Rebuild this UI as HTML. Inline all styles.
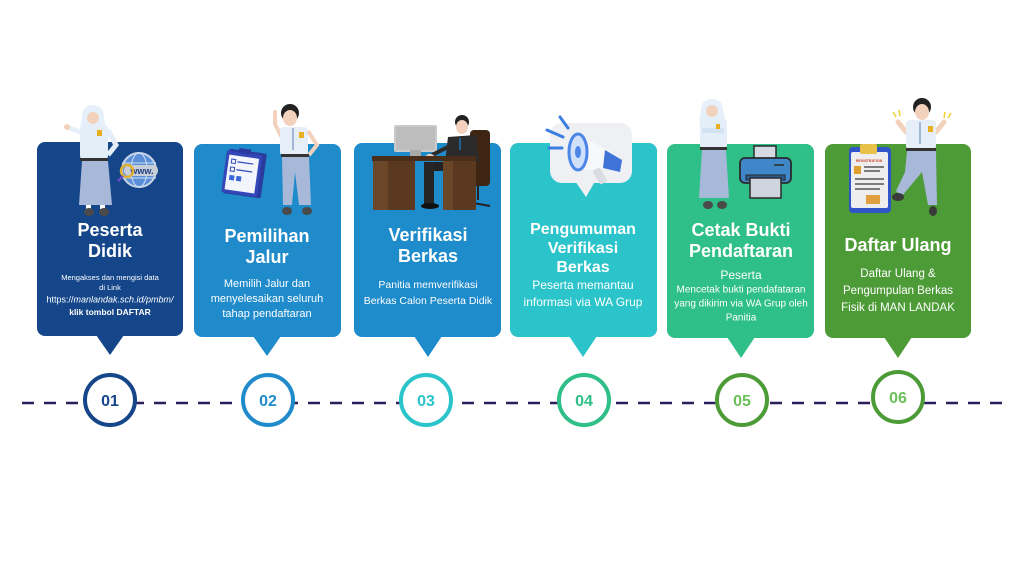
<!DOCTYPE html>
<html><head><meta charset="utf-8"><style>
html,body{margin:0;padding:0;background:#fff;}
svg{display:block;}
text{font-family:"Liberation Sans",sans-serif;}
</style></head><body>
<svg width="1024" height="576" viewBox="0 0 1024 576" xmlns="http://www.w3.org/2000/svg">
<rect width="1024" height="576" fill="#fff"/>

<!-- Cards -->
<g>
<rect x="37" y="142" width="146" height="194" rx="8" fill="#15468a"/>
<polygon points="96,335 124,335 110,355" fill="#15468a"/>
<rect x="194" y="144" width="147" height="193" rx="8" fill="#1f8bcb"/>
<polygon points="253,336 281,336 267,356" fill="#1f8bcb"/>
<rect x="354" y="143" width="147" height="194" rx="8" fill="#1e8bcb"/>
<polygon points="414,336 442,336 428,357" fill="#1e8bcb"/>
<rect x="510" y="143" width="147" height="194" rx="8" fill="#2cc4cb"/>
<polygon points="569,336 597,336 583,357" fill="#2cc4cb"/>
<rect x="667" y="144" width="147" height="194" rx="8" fill="#2fbf88"/>
<polygon points="727,337 755,337 741,358" fill="#2fbf88"/>
<rect x="825" y="144" width="146" height="194" rx="8" fill="#4d9b36"/>
<polygon points="884,337 912,337 898,358" fill="#4d9b36"/>
</g>

<!-- Card 1 illustration: girl + globe -->
<g>
<path d="M82,118 Q82,105 93,105 Q104,105 104,118 L106,128 L80,128 Z" fill="#e6f0fa"/>
<circle cx="93" cy="118" r="6" fill="#f3d2bd"/>
<line x1="83" y1="133" x2="69" y2="128" stroke="#e6f0fa" stroke-width="5" stroke-linecap="round"/>
<circle cx="67" cy="127" r="3" fill="#f3d2bd"/>
<rect x="80" y="125" width="28" height="35" rx="4" fill="#e3eef8"/>
<rect x="97" y="130" width="5" height="6" fill="#e8b020"/>
<path d="M108,130 L116,145 L108,155" stroke="#e3eef8" stroke-width="5" fill="none"/>
<rect x="80" y="158" width="28" height="3" fill="#333"/>
<polygon points="82,161 108,161 112,205 79,205" fill="#a8b8d8"/>
<rect x="86" y="205" width="5" height="4" fill="#fff"/>
<rect x="100" y="205" width="5" height="4" fill="#fff"/>
<ellipse cx="89" cy="212" rx="5" ry="4" fill="#4a4a4a"/>
<ellipse cx="104" cy="212" rx="5" ry="4" fill="#4a4a4a"/>
<circle cx="139" cy="170" r="17" fill="#5a8ed8" stroke="#c9d4e4" stroke-width="2"/>
<ellipse cx="139" cy="170" rx="8" ry="17" fill="none" stroke="#cfe0f5" stroke-width="1"/>
<line x1="122" y1="163" x2="156" y2="163" stroke="#cfe0f5" stroke-width="1"/>
<line x1="122" y1="178" x2="156" y2="178" stroke="#cfe0f5" stroke-width="1"/>
<rect x="124" y="165" width="34" height="11" rx="5" fill="#c8ced8"/>
<text x="142" y="174" font-size="9" font-weight="bold" fill="#1e3f80" text-anchor="middle">www.</text>
<circle cx="127" cy="171" r="6" fill="none" stroke="#e0b030" stroke-width="2.5"/>
<line x1="123" y1="176" x2="118" y2="181" stroke="#6a4fd0" stroke-width="2.5"/>
</g>

<!-- Card 2: clipboard + boy -->
<g transform="rotate(8 245 173)">
<rect x="226" y="151" width="38" height="45" rx="2" fill="#2b3a9e"/>
<rect x="224" y="153" width="36" height="42" rx="2" fill="#3447b8"/>
<rect x="227" y="157" width="30" height="35" fill="#f2f5fb"/>
<rect x="236" y="149" width="12" height="5" fill="#2b3a9e"/>
<rect x="230" y="161" width="4" height="4" fill="none" stroke="#3447b8" stroke-width="1"/>
<line x1="236" y1="163" x2="252" y2="163" stroke="#3447b8" stroke-width="1.2"/>
<rect x="230" y="169" width="4" height="4" fill="none" stroke="#3447b8" stroke-width="1"/>
<line x1="236" y1="171" x2="252" y2="171" stroke="#3447b8" stroke-width="1.2"/>
<rect x="230" y="177" width="5" height="5" fill="#3a66d8"/>
<rect x="237" y="177" width="5" height="5" fill="#3a66d8"/>
</g>
<g>
<circle cx="290" cy="113" r="9" fill="#222"/>
<ellipse cx="290" cy="118" rx="7" ry="8" fill="#f3d2bd"/>
<path d="M281,136 L275,124 L275,112" stroke="#f3d2bd" stroke-width="4" fill="none" stroke-linecap="round"/>
<rect x="280" y="127" width="28" height="29" rx="4" fill="#e6eef8"/>
<rect x="299" y="132" width="5" height="6" fill="#e8b020"/>
<line x1="293" y1="128" x2="293" y2="150" stroke="#8ea4cc" stroke-width="1.5"/>
<path d="M308,131 L317,145 L309,155" stroke="#f3d2bd" stroke-width="4" fill="none"/>
<rect x="281" y="154" width="28" height="3" fill="#333"/>
<polygon points="282,157 309,157 311,205 299,205 295,172 292,205 283,205" fill="#a8b8d8"/>
<ellipse cx="287" cy="211" rx="5" ry="4" fill="#4a4a4a"/>
<ellipse cx="307" cy="211" rx="5" ry="4" fill="#4a4a4a"/>
</g>

<!-- Card 3: desk + man -->
<g>
<rect x="394" y="125" width="43" height="27" rx="2" fill="#cacaca"/>
<rect x="396" y="127" width="39" height="23" fill="#bdbdbd"/>
<rect x="410" y="150" width="11" height="8" fill="#a9a9a9"/>
<rect x="470" y="130" width="20" height="56" rx="4" fill="#3e2412"/>
<line x1="478" y1="186" x2="478" y2="200" stroke="#222" stroke-width="2"/>
<line x1="468" y1="202" x2="490" y2="206" stroke="#222" stroke-width="2"/>
<circle cx="462" cy="122" r="7" fill="#222"/>
<ellipse cx="462" cy="127" rx="6" ry="7" fill="#f3d2bd"/>
<polygon points="448,137 476,135 479,162 445,162" fill="#2b2b2b"/>
<line x1="460" y1="138" x2="460" y2="150" stroke="#1f6fb0" stroke-width="1.5"/>
<line x1="450" y1="146" x2="432" y2="155" stroke="#2b2b2b" stroke-width="4"/>
<ellipse cx="430" cy="156" rx="4" ry="2" fill="#f3d2bd"/>
<rect x="372" y="156" width="104" height="5" fill="#4a2e1c"/>
<rect x="373" y="161" width="42" height="49" fill="#5b3920"/>
<rect x="373" y="161" width="15" height="49" fill="#6c4629"/>
<rect x="424" y="162" width="22" height="9" fill="#222"/>
<rect x="424" y="162" width="10" height="42" fill="#252525"/>
<ellipse cx="430" cy="206" rx="9" ry="3" fill="#111"/>
<rect x="443" y="161" width="33" height="49" fill="#5b3920"/>
<rect x="443" y="161" width="10" height="49" fill="#6c4629"/>
</g>

<!-- Card 4: megaphone bubble -->
<g>
<rect x="550" y="123" width="82" height="60" rx="12" fill="#eef0f4"/>
<polygon points="573,178 597,178 586,197" fill="#eef0f4"/>
<polygon points="578,135 612,152 612,168 580,170" fill="#f7f8fb"/>
<polygon points="605,150 622,160 620,172 603,168" fill="#3f73d8"/>
<rect x="596" y="168" width="8" height="16" rx="2" transform="rotate(-30 600 176)" fill="#d9dce3"/>
<ellipse cx="578" cy="152" rx="9" ry="18" fill="#cfe0fb" stroke="#4c86e6" stroke-width="3"/>
<ellipse cx="578" cy="152" rx="3" ry="6" fill="#4c86e6"/>
<line x1="560" y1="117" x2="568" y2="128" stroke="#3b7de0" stroke-width="3" stroke-linecap="round"/>
<line x1="547" y1="130" x2="563" y2="137" stroke="#3b7de0" stroke-width="3" stroke-linecap="round"/>
<line x1="549" y1="148" x2="562" y2="148" stroke="#3b7de0" stroke-width="3" stroke-linecap="round"/>
</g>

<!-- Card 5: girl + printer -->
<g>
<path d="M701,111 Q701,99 712,99 Q723,99 723,111 L726,122 L699,122 Z" fill="#e6f0fa"/>
<circle cx="712" cy="111" r="6" fill="#f3d2bd"/>
<rect x="700" y="119" width="27" height="30" rx="4" fill="#e3eef8"/>
<rect x="702" y="128" width="22" height="5" rx="2" fill="#d2e2f2"/>
<rect x="716" y="124" width="4" height="5" fill="#e8b020"/>
<rect x="700" y="147" width="27" height="3" fill="#333"/>
<polygon points="702,150 726,150 729,198 699,198" fill="#a8b8d8"/>
<ellipse cx="708" cy="205" rx="5" ry="4" fill="#4a4a4a"/>
<ellipse cx="722" cy="205" rx="5" ry="4" fill="#4a4a4a"/>
<rect x="754" y="146" width="22" height="15" fill="#d6dbe3" stroke="#2a2a2a" stroke-width="1.5"/>
<rect x="740" y="158" width="51" height="25" rx="5" fill="#3f87c8" stroke="#2a2a2a" stroke-width="1.8"/>
<line x1="774" y1="165" x2="784" y2="165" stroke="#2a2a2a" stroke-width="1.5"/>
<rect x="746" y="175" width="39" height="5" fill="#2a5a8e" stroke="#2a2a2a" stroke-width="1"/>
<rect x="750" y="178" width="31" height="20" fill="#cfd5de" stroke="#2a2a2a" stroke-width="1.5"/>
</g>

<!-- Card 6: clipboard + boy -->
<g>
<rect x="849" y="147" width="42" height="66" rx="4" fill="#2f55c8"/>
<rect x="851" y="152" width="37" height="56" rx="2" fill="#eeeeee"/>
<rect x="860" y="144" width="17" height="10" rx="2" fill="#e8c04a"/>
<text x="869" y="162" font-size="3.5" font-weight="bold" fill="#d0402a" text-anchor="middle">REGISTRATION</text>
<rect x="854" y="166" width="7" height="8" fill="#e0a030"/>
<line x1="864" y1="167" x2="884" y2="167" stroke="#555" stroke-width="1.5"/>
<line x1="864" y1="171" x2="880" y2="171" stroke="#555" stroke-width="1.5"/>
<line x1="855" y1="179" x2="884" y2="179" stroke="#555" stroke-width="1.5"/>
<line x1="855" y1="184" x2="884" y2="184" stroke="#555" stroke-width="1.5"/>
<line x1="855" y1="189" x2="880" y2="189" stroke="#555" stroke-width="1.5"/>
<rect x="866" y="195" width="14" height="9" fill="#e0a040"/>
</g>
<g>
<circle cx="922" cy="107" r="9" fill="#222"/>
<ellipse cx="922" cy="112" rx="7" ry="8" fill="#f3d2bd"/>
<path d="M906,132 L898,122" stroke="#f3d2bd" stroke-width="5" stroke-linecap="round"/>
<path d="M936,132 L944,122" stroke="#f3d2bd" stroke-width="5" stroke-linecap="round"/>
<rect x="906" y="120" width="30" height="30" rx="4" fill="#e6eef8"/>
<rect x="928" y="126" width="5" height="6" fill="#e8b020"/>
<line x1="920" y1="122" x2="920" y2="144" stroke="#8ea4cc" stroke-width="1.5"/>
<rect x="906" y="148" width="30" height="3" fill="#333"/>
<polygon points="907,151 936,151 937,205 928,205 922,172 912,184 902,196 896,191 905,172" fill="#a8b8d8"/>
<ellipse cx="898" cy="197" rx="6" ry="4" fill="#3a3a3a"/>
<ellipse cx="933" cy="211" rx="4" ry="5" fill="#3a3a3a"/>
<line x1="893" y1="112" x2="896" y2="117" stroke="#f0d030" stroke-width="1.5"/>
<line x1="899" y1="110" x2="900" y2="116" stroke="#f0d030" stroke-width="1.5"/>
<line x1="945" y1="112" x2="944" y2="118" stroke="#f0d030" stroke-width="1.5"/>
<line x1="951" y1="113" x2="948" y2="118" stroke="#f0d030" stroke-width="1.5"/>
</g>

<!-- Card texts -->
<g fill="#fff" text-anchor="middle">
<text x="110" y="236" font-size="18" font-weight="bold">Peserta</text>
<text x="110" y="257" font-size="18" font-weight="bold">Didik</text>
<text x="110" y="280" font-size="7.5">Mengakses dan mengisi data</text>
<text x="110" y="290" font-size="7.5">di  Link</text>
<text x="110" y="302.5" font-size="9">https://<tspan font-style="italic">manlandak.sch.id/pmbm/</tspan></text>
<text x="110" y="315" font-size="8.5" font-weight="bold">klik tombol DAFTAR</text>

<text x="267" y="242" font-size="18" font-weight="bold">Pemilihan</text>
<text x="267" y="263" font-size="18" font-weight="bold">Jalur</text>
<text x="267" y="287" font-size="11">Memilih Jalur dan</text>
<text x="267" y="302" font-size="11">menyelesaikan seluruh</text>
<text x="267" y="317" font-size="11">tahap pendaftaran</text>

<text x="428" y="241" font-size="18" font-weight="bold">Verifikasi</text>
<text x="428" y="262" font-size="18" font-weight="bold">Berkas</text>
<text x="428" y="288" font-size="10.5">Panitia memverifikasi</text>
<text x="428" y="304" font-size="10.5">Berkas Calon Peserta Didik</text>

<text x="583" y="234" font-size="16" font-weight="bold">Pengumuman</text>
<text x="583" y="253" font-size="16" font-weight="bold">Verifikasi</text>
<text x="583" y="272" font-size="16" font-weight="bold">Berkas</text>
<text x="583" y="289" font-size="12">Peserta memantau</text>
<text x="583" y="306" font-size="12">informasi via WA Grup</text>

<text x="741" y="236" font-size="18" font-weight="bold">Cetak Bukti</text>
<text x="741" y="257" font-size="18" font-weight="bold">Pendaftaran</text>
<text x="741" y="279" font-size="12">Peserta</text>
<text x="741" y="292.5" font-size="10">Mencetak bukti pendafataran</text>
<text x="741" y="306.5" font-size="10">yang dikirim via WA Grup oleh</text>
<text x="741" y="320.5" font-size="10">Panitia</text>

<text x="898" y="251" font-size="18" font-weight="bold">Daftar Ulang</text>
<text x="898" y="277" font-size="11.5">Daftar Ulang &amp;</text>
<text x="898" y="294" font-size="11.5">Pengumpulan Berkas</text>
<text x="898" y="311" font-size="11.5">Fisik di MAN LANDAK</text>
</g>

<!-- Timeline -->
<line x1="22" y1="403" x2="1002" y2="403" stroke="#2d1f5e" stroke-width="2.5" stroke-dasharray="12 10"/>
<g stroke-width="4" fill="#fff">
<circle cx="110" cy="400" r="25" stroke="#15468a"/>
<circle cx="268" cy="400" r="25" stroke="#1f8bcb"/>
<circle cx="426" cy="400" r="25" stroke="#2cc4cb"/>
<circle cx="584" cy="400" r="25" stroke="#2fbf88"/>
<circle cx="742" cy="400" r="25" stroke="#4d9b36"/>
<circle cx="898" cy="397" r="25" stroke="#4d9b36"/>
</g>
<g font-size="16" font-weight="bold" text-anchor="middle">
<text x="110" y="406" fill="#15468a">01</text>
<text x="268" y="406" fill="#1f8bcb">02</text>
<text x="426" y="406" fill="#2cc4cb">03</text>
<text x="584" y="406" fill="#2fbf88">04</text>
<text x="742" y="406" fill="#6cc05a">05</text>
<text x="898" y="403" fill="#6cc05a">06</text>
</g>
</svg>
</body></html>
